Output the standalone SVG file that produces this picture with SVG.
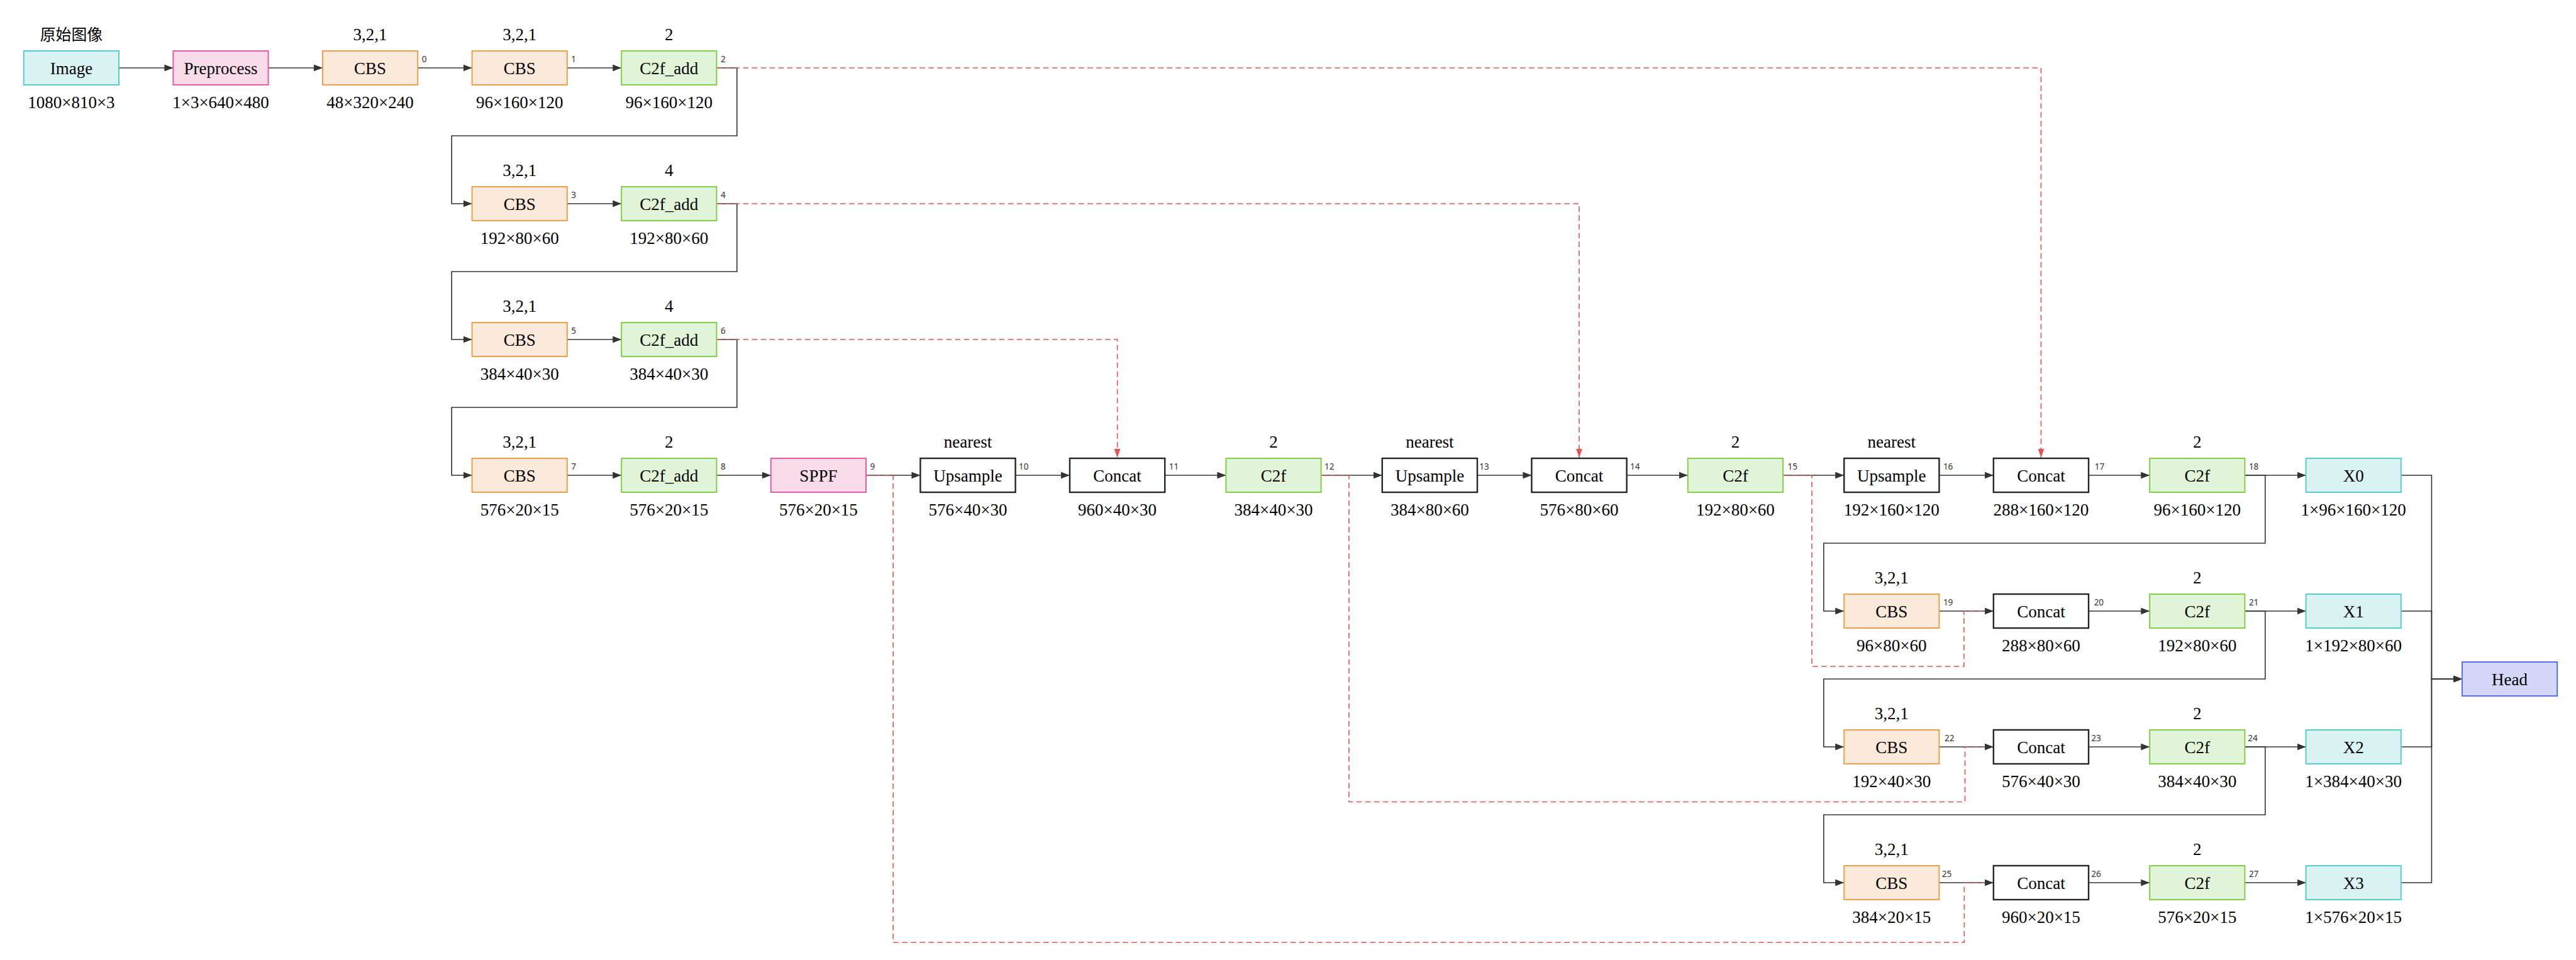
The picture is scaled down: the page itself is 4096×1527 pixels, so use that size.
<svg xmlns="http://www.w3.org/2000/svg" width="4096" height="1527" viewBox="0 0 4096 1527">
<defs>
<style>
.bx{stroke-width:3.5}
.cbs{fill:#fbe9da;stroke:#ee9a47}
.c2f{fill:#e3f5d9;stroke:#7ccf41}
.cy{fill:#daf4f4;stroke:#4ecccc}
.pk{fill:#f9dbea;stroke:#e8559f}
.pl{fill:#ffffff;stroke:#22272e;stroke-width:4.5}
.hd{fill:#d4d7f7;stroke:#4b6ce6}
text{font-family:"Liberation Serif","Times New Roman",serif;font-size:50px;fill:#000;text-anchor:middle}
text.cjk{font-family:"Liberation Serif","Noto Sans CJK SC",sans-serif;font-size:46px}
text.idx{font-family:"Noto Sans","Liberation Sans",sans-serif;font-size:25px;fill:#333;text-anchor:start}
.ln{fill:none;stroke:#333;stroke-width:3}
.dl{fill:none;stroke:#e85252;stroke-width:3;stroke-dasharray:16 10}
</style>
<marker id="ar" markerUnits="userSpaceOnUse" viewBox="0 0 26 20" markerWidth="26" markerHeight="20" refX="26" refY="10" orient="auto"><path d="M0,0 L26,10 L0,20 z" fill="#333"/></marker>
<marker id="ar2" markerUnits="userSpaceOnUse" viewBox="0 0 26 18" markerWidth="26" markerHeight="18" refX="26" refY="9" orient="auto"><path d="M0,0 L26,9 L0,18 z" fill="#e85252"/></marker>
</defs>
<rect width="4096" height="1527" fill="#fff"/>
<g transform="scale(0.54)">
<g id="connectors">
<path class="ln" marker-end="url(#ar)" d="M350,200 H510"/>
<path class="ln" marker-end="url(#ar)" d="M790,200 H950"/>
<path class="ln" marker-end="url(#ar)" d="M1230,200 H1390"/>
<path class="ln" marker-end="url(#ar)" d="M1670,200 H1830"/>
<path class="ln" marker-end="url(#ar)" d="M2110,200 H2170 V400 H1330 V600 H1390"/>
<path class="ln" marker-end="url(#ar)" d="M1670,600 H1830"/>
<path class="ln" marker-end="url(#ar)" d="M2110,600 H2170 V800 H1330 V1000 H1390"/>
<path class="ln" marker-end="url(#ar)" d="M1670,1000 H1830"/>
<path class="ln" marker-end="url(#ar)" d="M2110,1000 H2170 V1200 H1330 V1400 H1390"/>
<path class="ln" marker-end="url(#ar)" d="M1670,1400 H1830"/>
<path class="ln" marker-end="url(#ar)" d="M2110,1400 H2270"/>
<path class="ln" marker-end="url(#ar)" d="M2550,1400 H2710"/>
<path class="ln" marker-end="url(#ar)" d="M2990,1400 H3150"/>
<path class="ln" marker-end="url(#ar)" d="M3430,1400 H3610"/>
<path class="ln" marker-end="url(#ar)" d="M3890,1400 H4070"/>
<path class="ln" marker-end="url(#ar)" d="M4350,1400 H4510"/>
<path class="ln" marker-end="url(#ar)" d="M4790,1400 H4970"/>
<path class="ln" marker-end="url(#ar)" d="M5250,1400 H5430"/>
<path class="ln" marker-end="url(#ar)" d="M5710,1400 H5870"/>
<path class="ln" marker-end="url(#ar)" d="M6150,1400 H6330"/>
<path class="ln" marker-end="url(#ar)" d="M6610,1400 H6790"/>
<path class="ln" marker-end="url(#ar)" d="M6610,1400 H6670 V1600 H5370 V1800 H5430"/>
<path class="ln" marker-end="url(#ar)" d="M5710,1800 H5870"/>
<path class="ln" marker-end="url(#ar)" d="M6150,1800 H6330"/>
<path class="ln" marker-end="url(#ar)" d="M6610,1800 H6790"/>
<path class="ln" marker-end="url(#ar)" d="M6610,1800 H6670 V2000 H5370 V2200 H5430"/>
<path class="ln" marker-end="url(#ar)" d="M5710,2200 H5870"/>
<path class="ln" marker-end="url(#ar)" d="M6150,2200 H6330"/>
<path class="ln" marker-end="url(#ar)" d="M6610,2200 H6790"/>
<path class="ln" marker-end="url(#ar)" d="M6610,2200 H6670 V2400 H5370 V2600 H5430"/>
<path class="ln" marker-end="url(#ar)" d="M5710,2600 H5870"/>
<path class="ln" marker-end="url(#ar)" d="M6150,2600 H6330"/>
<path class="ln" marker-end="url(#ar)" d="M6610,2600 H6790"/>
<path class="ln" marker-end="url(#ar)" d="M7070,1400 H7160 V2000 H7250"/>
<path class="ln" marker-end="url(#ar)" d="M7070,1800 H7160 V2000 H7250"/>
<path class="ln" marker-end="url(#ar)" d="M7070,2200 H7160 V2000 H7250"/>
<path class="ln" marker-end="url(#ar)" d="M7070,2600 H7160 V2000 H7250"/>
<path class="dl" marker-end="url(#ar2)" d="M2110,200 H6010 V1348"/>
<path class="dl" marker-end="url(#ar2)" d="M2110,600 H4650 V1348"/>
<path class="dl" marker-end="url(#ar2)" d="M2110,1000 H3290 V1348"/>
<path class="dl" d="M2550,1400 H2630 V2776 H5784 V2600 H5845"/>
<path class="dl" d="M3890,1400 H3972 V2362 H5786 V2200 H5845"/>
<path class="dl" d="M5250,1400 H5335 V1963 H5783 V1800 H5845"/>
</g>
<g id="n_image"><rect class="bx cy" x="70" y="150" width="280" height="100"/><text x="210" y="218">Image</text><text class="cjk" x="210" y="118">原始图像</text><text x="210" y="318">1080×810×3</text></g>
<g id="n_pre"><rect class="bx pk" x="510" y="150" width="280" height="100"/><text x="650" y="218">Preprocess</text><text x="650" y="318">1×3×640×480</text></g>
<g id="n0"><rect class="bx cbs" x="950" y="150" width="280" height="100"/><text x="1090" y="218">CBS</text><text x="1090" y="118">3,2,1</text><text x="1090" y="318">48×320×240</text><text class="idx" x="1242" y="183">0</text></g>
<g id="n1"><rect class="bx cbs" x="1390" y="150" width="280" height="100"/><text x="1530" y="218">CBS</text><text x="1530" y="118">3,2,1</text><text x="1530" y="318">96×160×120</text><text class="idx" x="1682" y="183">1</text></g>
<g id="n2"><rect class="bx c2f" x="1830" y="150" width="280" height="100"/><text x="1970" y="218">C2f_add</text><text x="1970" y="118">2</text><text x="1970" y="318">96×160×120</text><text class="idx" x="2122" y="183">2</text></g>
<g id="n3"><rect class="bx cbs" x="1390" y="550" width="280" height="100"/><text x="1530" y="618">CBS</text><text x="1530" y="518">3,2,1</text><text x="1530" y="718">192×80×60</text><text class="idx" x="1682" y="583">3</text></g>
<g id="n4"><rect class="bx c2f" x="1830" y="550" width="280" height="100"/><text x="1970" y="618">C2f_add</text><text x="1970" y="518">4</text><text x="1970" y="718">192×80×60</text><text class="idx" x="2122" y="583">4</text></g>
<g id="n5"><rect class="bx cbs" x="1390" y="950" width="280" height="100"/><text x="1530" y="1018">CBS</text><text x="1530" y="918">3,2,1</text><text x="1530" y="1118">384×40×30</text><text class="idx" x="1682" y="983">5</text></g>
<g id="n6"><rect class="bx c2f" x="1830" y="950" width="280" height="100"/><text x="1970" y="1018">C2f_add</text><text x="1970" y="918">4</text><text x="1970" y="1118">384×40×30</text><text class="idx" x="2122" y="983">6</text></g>
<g id="n7"><rect class="bx cbs" x="1390" y="1350" width="280" height="100"/><text x="1530" y="1418">CBS</text><text x="1530" y="1318">3,2,1</text><text x="1530" y="1518">576×20×15</text><text class="idx" x="1682" y="1383">7</text></g>
<g id="n8"><rect class="bx c2f" x="1830" y="1350" width="280" height="100"/><text x="1970" y="1418">C2f_add</text><text x="1970" y="1318">2</text><text x="1970" y="1518">576×20×15</text><text class="idx" x="2122" y="1383">8</text></g>
<g id="n9"><rect class="bx pk" x="2270" y="1350" width="280" height="100"/><text x="2410" y="1418">SPPF</text><text x="2410" y="1518">576×20×15</text><text class="idx" x="2562" y="1383">9</text></g>
<g id="n10"><rect class="pl" x="2710" y="1350" width="280" height="100"/><text x="2850" y="1418">Upsample</text><text x="2850" y="1318">nearest</text><text x="2850" y="1518">576×40×30</text><text class="idx" x="3000" y="1383">10</text></g>
<g id="n11"><rect class="pl" x="3150" y="1350" width="280" height="100"/><text x="3290" y="1418">Concat</text><text x="3290" y="1518">960×40×30</text><text class="idx" x="3442" y="1383">11</text></g>
<g id="n12"><rect class="bx c2f" x="3610" y="1350" width="280" height="100"/><text x="3750" y="1418">C2f</text><text x="3750" y="1318">2</text><text x="3750" y="1518">384×40×30</text><text class="idx" x="3900" y="1383">12</text></g>
<g id="n13"><rect class="pl" x="4070" y="1350" width="280" height="100"/><text x="4210" y="1418">Upsample</text><text x="4210" y="1318">nearest</text><text x="4210" y="1518">384×80×60</text><text class="idx" x="4356" y="1383">13</text></g>
<g id="n14"><rect class="pl" x="4510" y="1350" width="280" height="100"/><text x="4650" y="1418">Concat</text><text x="4650" y="1518">576×80×60</text><text class="idx" x="4800" y="1383">14</text></g>
<g id="n15"><rect class="bx c2f" x="4970" y="1350" width="280" height="100"/><text x="5110" y="1418">C2f</text><text x="5110" y="1318">2</text><text x="5110" y="1518">192×80×60</text><text class="idx" x="5264" y="1383">15</text></g>
<g id="n16"><rect class="pl" x="5430" y="1350" width="280" height="100"/><text x="5570" y="1418">Upsample</text><text x="5570" y="1318">nearest</text><text x="5570" y="1518">192×160×120</text><text class="idx" x="5722" y="1383">16</text></g>
<g id="n17"><rect class="pl" x="5870" y="1350" width="280" height="100"/><text x="6010" y="1418">Concat</text><text x="6010" y="1518">288×160×120</text><text class="idx" x="6168" y="1383">17</text></g>
<g id="n18"><rect class="bx c2f" x="6330" y="1350" width="280" height="100"/><text x="6470" y="1418">C2f</text><text x="6470" y="1318">2</text><text x="6470" y="1518">96×160×120</text><text class="idx" x="6622" y="1383">18</text></g>
<g id="x0"><rect class="bx cy" x="6790" y="1350" width="280" height="100"/><text x="6930" y="1418">X0</text><text x="6930" y="1518">1×96×160×120</text></g>
<g id="n19"><rect class="bx cbs" x="5430" y="1750" width="280" height="100"/><text x="5570" y="1818">CBS</text><text x="5570" y="1718">3,2,1</text><text x="5570" y="1918">96×80×60</text><text class="idx" x="5722" y="1783">19</text></g>
<g id="n20"><rect class="pl" x="5870" y="1750" width="280" height="100"/><text x="6010" y="1818">Concat</text><text x="6010" y="1918">288×80×60</text><text class="idx" x="6166" y="1783">20</text></g>
<g id="n21"><rect class="bx c2f" x="6330" y="1750" width="280" height="100"/><text x="6470" y="1818">C2f</text><text x="6470" y="1718">2</text><text x="6470" y="1918">192×80×60</text><text class="idx" x="6622" y="1783">21</text></g>
<g id="x1"><rect class="bx cy" x="6790" y="1750" width="280" height="100"/><text x="6930" y="1818">X1</text><text x="6930" y="1918">1×192×80×60</text></g>
<g id="n22"><rect class="bx cbs" x="5430" y="2150" width="280" height="100"/><text x="5570" y="2218">CBS</text><text x="5570" y="2118">3,2,1</text><text x="5570" y="2318">192×40×30</text><text class="idx" x="5726" y="2183">22</text></g>
<g id="n23"><rect class="pl" x="5870" y="2150" width="280" height="100"/><text x="6010" y="2218">Concat</text><text x="6010" y="2318">576×40×30</text><text class="idx" x="6158" y="2183">23</text></g>
<g id="n24"><rect class="bx c2f" x="6330" y="2150" width="280" height="100"/><text x="6470" y="2218">C2f</text><text x="6470" y="2118">2</text><text x="6470" y="2318">384×40×30</text><text class="idx" x="6619" y="2183">24</text></g>
<g id="x2"><rect class="bx cy" x="6790" y="2150" width="280" height="100"/><text x="6930" y="2218">X2</text><text x="6930" y="2318">1×384×40×30</text></g>
<g id="n25"><rect class="bx cbs" x="5430" y="2550" width="280" height="100"/><text x="5570" y="2618">CBS</text><text x="5570" y="2518">3,2,1</text><text x="5570" y="2718">384×20×15</text><text class="idx" x="5718" y="2583">25</text></g>
<g id="n26"><rect class="pl" x="5870" y="2550" width="280" height="100"/><text x="6010" y="2618">Concat</text><text x="6010" y="2718">960×20×15</text><text class="idx" x="6158" y="2583">26</text></g>
<g id="n27"><rect class="bx c2f" x="6330" y="2550" width="280" height="100"/><text x="6470" y="2618">C2f</text><text x="6470" y="2518">2</text><text x="6470" y="2718">576×20×15</text><text class="idx" x="6622" y="2583">27</text></g>
<g id="x3"><rect class="bx cy" x="6790" y="2550" width="280" height="100"/><text x="6930" y="2618">X3</text><text x="6930" y="2718">1×576×20×15</text></g>
<g id="head"><rect class="bx hd" x="7250" y="1950" width="280" height="100"/><text x="7390" y="2018">Head</text></g>
</g>
</svg>
